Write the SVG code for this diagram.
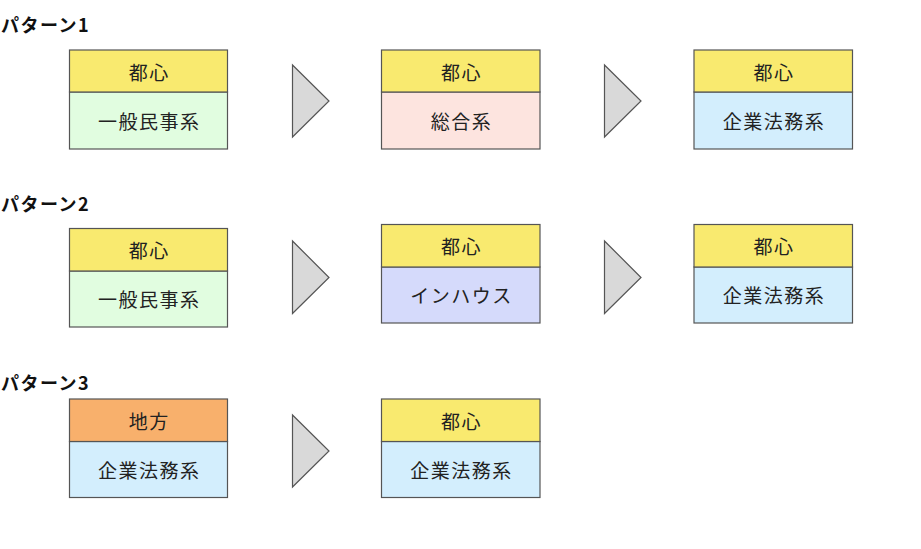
<svg xmlns="http://www.w3.org/2000/svg" width="921" height="549" viewBox="0 0 921 549">
<style>
.bg{fill:#ffffff}
.box{stroke:#555555;stroke-width:1.2}
.yel{fill:#f9ea6f}
.grn{fill:#e1fde0}
.pnk{fill:#fde4df}
.blu{fill:#d3eefd}
.lav{fill:#d5dafb}
.org{fill:#f8b06c}
.arr{fill:#d9d9d9;stroke:#555555;stroke-width:1.2;stroke-linejoin:miter}
.t{font-family:"Noto Sans CJK JP","Noto Sans",sans-serif;font-size:19px;fill:#222222;text-anchor:middle;letter-spacing:1.5px}
.h{font-family:"Noto Sans CJK JP","Noto Sans",sans-serif;font-size:18px;font-weight:bold;fill:#111111;letter-spacing:1.5px}
</style>
<rect class="bg" x="0" y="0" width="921" height="549"/>
<text class="h" x="1" y="32">パターン1</text>
<text class="h" x="1" y="211">パターン2</text>
<text class="h" x="1" y="390">パターン3</text>

<g id="p1-a">
<rect class="box grn" x="69.5" y="92" width="158" height="57"/>
<rect class="box yel" x="69.5" y="50" width="158" height="42"/>
<text class="t" x="149.3" y="80">都心</text>
<text class="t" x="149.3" y="129">一般民事系</text>
</g>
<g id="p1-b">
<rect class="box pnk" x="381.5" y="92" width="158.5" height="57"/>
<rect class="box yel" x="381.5" y="50" width="158.5" height="42"/>
<text class="t" x="461.5" y="80">都心</text>
<text class="t" x="461.5" y="129">総合系</text>
</g>
<g id="p1-c">
<rect class="box blu" x="694" y="92" width="158.5" height="57"/>
<rect class="box yel" x="694" y="50" width="158.5" height="42"/>
<text class="t" x="774" y="80">都心</text>
<text class="t" x="774" y="129">企業法務系</text>
</g>

<g id="p2-a">
<rect class="box grn" x="69.5" y="271" width="158" height="56"/>
<rect class="box yel" x="69.5" y="228.5" width="158" height="42.5"/>
<text class="t" x="149.3" y="258">都心</text>
<text class="t" x="149.3" y="307">一般民事系</text>
</g>
<g id="p2-b">
<rect class="box lav" x="381.5" y="267" width="158.5" height="56"/>
<rect class="box yel" x="381.5" y="224.5" width="158.5" height="42.5"/>
<text class="t" x="461.5" y="254">都心</text>
<text class="t" x="461.5" y="303">インハウス</text>
</g>
<g id="p2-c">
<rect class="box blu" x="694" y="267" width="158.5" height="56"/>
<rect class="box yel" x="694" y="224.5" width="158.5" height="42.5"/>
<text class="t" x="774" y="254">都心</text>
<text class="t" x="774" y="303">企業法務系</text>
</g>

<g id="p3-a">
<rect class="box blu" x="69.5" y="441.5" width="158" height="56"/>
<rect class="box org" x="69.5" y="399" width="158" height="42.5"/>
<text class="t" x="149.3" y="428.5">地方</text>
<text class="t" x="149.3" y="477.5">企業法務系</text>
</g>
<g id="p3-b">
<rect class="box blu" x="381.5" y="441.5" width="158.5" height="56"/>
<rect class="box yel" x="381.5" y="399" width="158.5" height="42.5"/>
<text class="t" x="461.5" y="428.5">都心</text>
<text class="t" x="461.5" y="477.5">企業法務系</text>
</g>

<g id="connectors">
<polygon class="arr" points="292.5,65 329,101 292.5,137"/>
<polygon class="arr" points="604.5,65 641,101 604.5,137"/>
<polygon class="arr" points="292.5,241 329,277.5 292.5,313.5"/>
<polygon class="arr" points="604.5,241 641,277.5 604.5,313.5"/>
<polygon class="arr" points="292.5,415 329,451 292.5,487"/>
</g>
</svg>
